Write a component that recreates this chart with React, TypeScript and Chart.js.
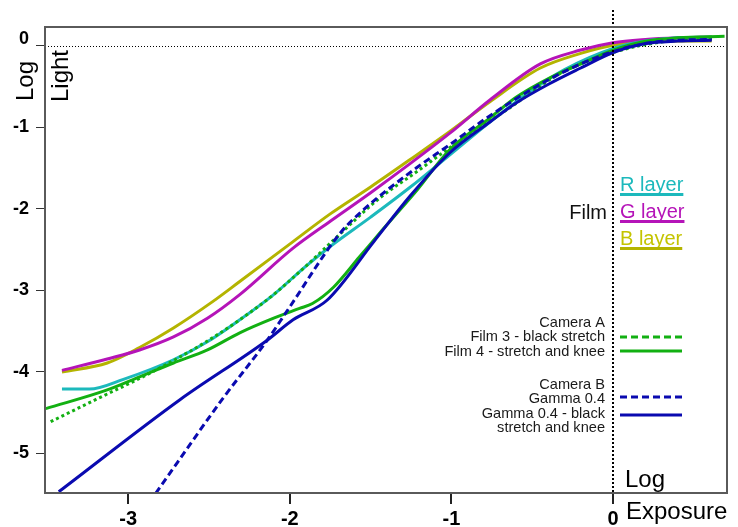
import React, { useEffect, useRef } from 'react';
import { Chart, registerables } from 'chart.js';

Chart.register(...registerables);

const FONT = "'Liberation Sans', Arial, sans-serif";

// Tick values
const xTickValues = [-3, -2, -1, 0];
const yTickValues = [0, -1, -2, -3, -4, -5];

// Film: R layer
const rLayerX = [-3.41, -3.24, -3.03, -2.72, -2.51, -2.31, -2.1, -1.9, -1.75, -1.5, -1.26, -0.97, -0.76, -0.5, -0.3, 0, 0.2, 0.4, 0.61];
const rLayerY = [-4.21, -4.21, -4.09, -3.85, -3.63, -3.36, -3.05, -2.7, -2.46, -2.1, -1.74, -1.27, -0.93, -0.54, -0.29, -0.03, 0.06, 0.1, 0.11];

// Film: G layer
const gLayerX = [-3.41, -3.13, -2.93, -2.72, -2.51, -2.31, -1.98, -1.75, -1.5, -1.26, -1.01, -0.76, -0.45, -0.2, 0, 0.2, 0.4, 0.61];
const gLayerY = [-3.98, -3.84, -3.73, -3.57, -3.34, -3.05, -2.48, -2.15, -1.8, -1.45, -1.07, -0.66, -0.22, -0.05, 0.04, 0.08, 0.1, 0.11];

// Film: B layer
const bLayerX = [-3.41, -3.13, -2.93, -2.72, -2.48, -2.31, -1.98, -1.75, -1.5, -1.26, -1.01, -0.76, -0.45, -0.2, 0, 0.2, 0.4, 0.61];
const bLayerY = [-4.0, -3.89, -3.7, -3.46, -3.14, -2.89, -2.4, -2.06, -1.73, -1.4, -1.05, -0.68, -0.27, -0.09, 0.01, 0.05, 0.06, 0.06];

// Camera A: Film 3 - black stretch
const film3X = [-3.48, -3.13, -2.93, -2.72, -2.51, -2.31, -2.1, -1.9, -1.75, -1.44, -1.22, -0.99, -0.64, -0.33, 0, 0.3, 0.61];
const film3Y = [-4.61, -4.27, -4.08, -3.86, -3.62, -3.36, -3.05, -2.7, -2.42, -1.86, -1.55, -1.22, -0.76, -0.34, -0.08, 0.05, 0.09];

// Camera A: Film 4 - stretch and knee
const film4X = [-3.51, -3.13, -2.93, -2.72, -2.51, -2.31, -2.1, -1.94, -1.86, -1.73, -1.57, -1.42, -1.21, -1.01, -0.76, -0.6, -0.4, -0.2, 0, 0.2, 0.4, 0.69];
const film4Y = [-4.45, -4.22, -4.06, -3.89, -3.73, -3.52, -3.34, -3.22, -3.16, -2.96, -2.59, -2.24, -1.76, -1.27, -0.88, -0.63, -0.4, -0.22, -0.05, 0.06, 0.1, 0.12];

// Camera B: Gamma 0.4
const gammaX = [-2.83, -2.42, -2.14, -2.02, -1.69, -1.55, -1.22, -1.01, -0.78, -0.45, -0.2, 0, 0.2, 0.4, 0.61];
const gammaY = [-5.49, -4.34, -3.61, -3.26, -2.3, -2.02, -1.5, -1.21, -0.88, -0.47, -0.22, -0.07, 0.03, 0.07, 0.08];

// Camera B: Gamma 0.4 - black stretch and knee
const gammaKneeX = [-3.43, -2.68, -2.14, -1.98, -1.77, -1.48, -1.26, -1.01, -0.76, -0.6, -0.4, -0.2, 0, 0.2, 0.4, 0.61];
const gammaKneeY = [-5.47, -4.34, -3.61, -3.36, -3.12, -2.4, -1.85, -1.31, -0.93, -0.7, -0.47, -0.27, -0.08, 0.03, 0.06, 0.07];

const COLORS = {
  r: '#1cb9bc',
  g: '#b514b8',
  b: '#b4b400',
  bText: '#c4c400',
  green: '#12b012',
  blue: '#0a0ab0',
};

const pts = (xs: number[], ys: number[]) => xs.map((x, i) => ({ x, y: ys[i] }));

const overlayPlugin = {
  id: 'overlay',
  beforeDatasetsDraw(chart: any) {
    const { ctx, chartArea, scales } = chart;
    const y0 = scales.y.getPixelForValue(0);
    ctx.save();
    ctx.strokeStyle = '#000';
    ctx.lineWidth = 1;
    ctx.setLineDash([1, 2]);
    ctx.beginPath();
    ctx.moveTo(chartArea.left, Math.round(y0) + 0.5);
    ctx.lineTo(chartArea.right, Math.round(y0) + 0.5);
    ctx.stroke();
    ctx.restore();
  },
  afterDatasetsDraw(chart: any) {
    const { ctx, chartArea, scales } = chart;
    const x0 = scales.x.getPixelForValue(0);
    ctx.save();
    // vertical dotted line at log exposure 0
    ctx.strokeStyle = '#000';
    ctx.lineWidth = 2;
    ctx.setLineDash([2, 2]);
    ctx.beginPath();
    ctx.moveTo(Math.round(x0), 10);
    ctx.lineTo(Math.round(x0), chartArea.bottom);
    ctx.stroke();
    ctx.setLineDash([]);

    // frame
    ctx.strokeStyle = '#5a5a5a';
    ctx.lineWidth = 2;
    ctx.strokeRect(chartArea.left, chartArea.top, chartArea.right - chartArea.left, chartArea.bottom - chartArea.top);

    // axis titles
    ctx.fillStyle = '#000';
    ctx.font = `24px ${FONT}`;
    ctx.textAlign = 'center';
    ctx.textBaseline = 'middle';
    ctx.save();
    ctx.translate(26, 81);
    ctx.rotate(-Math.PI / 2);
    ctx.fillText('Log', 0, 0);
    ctx.restore();
    ctx.save();
    ctx.translate(61, 76);
    ctx.rotate(-Math.PI / 2);
    ctx.fillText('Light', 0, 0);
    ctx.restore();
    ctx.textAlign = 'left';
    ctx.textBaseline = 'alphabetic';
    ctx.fillText('Log', 625, 487);
    ctx.fillText('Exposure', 626, 519);

    // Film legend
    ctx.font = `20px ${FONT}`;
    ctx.textBaseline = 'alphabetic';
    ctx.fillStyle = '#111';
    ctx.textAlign = 'right';
    ctx.fillText('Film', 607, 219);
    const film = [
      { t: 'R layer', c: COLORS.r, tc: COLORS.r, y: 192 },
      { t: 'G layer', c: COLORS.g, tc: COLORS.g, y: 219 },
      { t: 'B layer', c: COLORS.b, tc: COLORS.bText, y: 246 },
    ];
    ctx.textAlign = 'left';
    film.forEach((f) => {
      ctx.fillStyle = f.tc;
      ctx.fillText(f.t, 620, f.y - 1);
      const w = ctx.measureText(f.t).width;
      ctx.strokeStyle = f.c;
      ctx.lineWidth = 3;
      ctx.beginPath();
      ctx.moveTo(620, f.y + 2.5);
      ctx.lineTo(620 + w, f.y + 2.5);
      ctx.stroke();
    });

    // Camera legend
    ctx.font = `14.6px ${FONT}`;
    ctx.fillStyle = '#1a1a1a';
    ctx.textAlign = 'right';
    ctx.textBaseline = 'middle';
    const camText: [string, number][] = [
      ['Camera A', 323],
      ['Film 3 - black stretch', 337],
      ['Film 4 - stretch and knee', 352],
      ['Camera B', 385],
      ['Gamma 0.4', 399],
      ['Gamma 0.4 - black', 414],
      ['stretch and knee', 428],
    ];
    camText.forEach(([t, y]) => ctx.fillText(t, 605, y));
    const camLines: { c: string; dash: number[]; y: number }[] = [
      { c: COLORS.green, dash: [7, 4], y: 337 },
      { c: COLORS.green, dash: [], y: 351 },
      { c: COLORS.blue, dash: [7, 4], y: 397 },
      { c: COLORS.blue, dash: [], y: 415 },
    ];
    camLines.forEach((l) => {
      ctx.strokeStyle = l.c;
      ctx.lineWidth = 3;
      ctx.setLineDash(l.dash);
      ctx.beginPath();
      ctx.moveTo(620, l.y);
      ctx.lineTo(682, l.y);
      ctx.stroke();
    });
    ctx.restore();
  },
};

export default function App() {
  const canvasRef = useRef<HTMLCanvasElement | null>(null);

  useEffect(() => {
    if (!canvasRef.current) return;
    const line = (label: string, data: any, color: string, dash: number[] = []) => ({
      label,
      data,
      borderColor: color,
      backgroundColor: color,
      borderWidth: 3,
      borderDash: dash,
      borderCapStyle: 'butt' as const,
      pointRadius: 0,
      pointHoverRadius: 0,
      fill: false,
      cubicInterpolationMode: 'monotone' as const,
    });
    const chart = new Chart(canvasRef.current, {
      type: 'line',
      data: {
        datasets: [
          line('Gamma 0.4', pts(gammaX, gammaY), COLORS.blue, [7, 4]),
          line('Gamma 0.4 - black stretch and knee', pts(gammaKneeX, gammaKneeY), COLORS.blue),
          line('Film 3 - black stretch', pts(film3X, film3Y), COLORS.green, [3, 3]),
          line('Film 4 - stretch and knee', pts(film4X, film4Y), COLORS.green),
          line('R layer', pts(rLayerX, rLayerY), COLORS.r),
          line('G layer', pts(gLayerX, gLayerY), COLORS.g),
          line('B layer', pts(bLayerX, bLayerY), COLORS.b),
        ],
      },
      options: {
        responsive: false,
        animation: false,
        devicePixelRatio: 1,
        layout: { padding: { left: 0, top: 27, right: 11, bottom: 0 } },
        plugins: { legend: { display: false }, tooltip: { enabled: false } },
        events: [],
        scales: {
          x: {
            type: 'linear',
            min: -3.515,
            max: 0.705,
            afterFit: (s: any) => { s.height = 34; },
            afterBuildTicks: (s: any) => { s.ticks = xTickValues.map((v) => ({ value: v })); },
            border: { display: false },
            grid: { display: true, drawOnChartArea: false, drawTicks: true, tickLength: 11, color: '#222', lineWidth: 2 },
            ticks: {
              includeBounds: false,
              padding: 3,
              color: '#000',
              font: { family: FONT, size: 20, weight: 'bold' },
              maxRotation: 0,
              callback: (v: any) => String(v),
            },
          },
          y: {
            type: 'linear',
            min: -5.485,
            max: 0.233,
            afterFit: (s: any) => { s.width = 45; },
            afterBuildTicks: (s: any) => { s.ticks = yTickValues.map((v) => ({ value: v })); },
            border: { display: false },
            grid: { display: true, drawOnChartArea: false, drawTicks: true, tickLength: 9, color: '#333', lineWidth: 1 },
            ticks: {
              includeBounds: false,
              padding: 7,
              color: '#000',
              font: { family: FONT, size: 18, weight: 'bold', lineHeight: '14px' },
              callback: (v: any) => (Number(v) === 0 ? ['0', ''] : String(v)),
            },
          },
        },
      },
      plugins: [overlayPlugin],
    } as any);
    return () => chart.destroy();
  }, []);

  return (
    <div style={{ position: 'absolute', left: 0, top: 0, width: 738, height: 527, background: '#fff' }}>
      <canvas ref={canvasRef} width={738} height={527} style={{ display: 'block' }} />
    </div>
  );
}
